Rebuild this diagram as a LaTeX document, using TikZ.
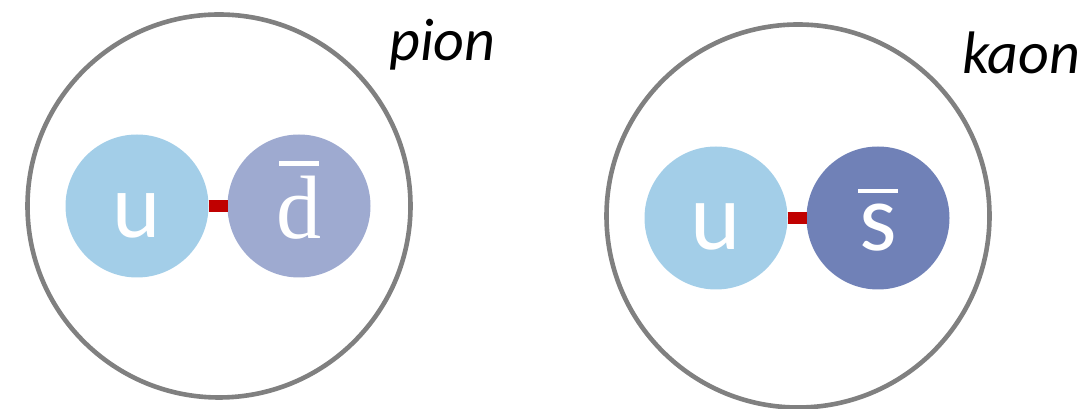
\documentclass[tikz,border=0pt]{standalone}
\usepackage{fontspec}
\setmainfont{Liberation Serif}
\newfontfamily\calibri{Carlito}
\usepackage{tikz}
\usetikzlibrary{positioning}
\definecolor{upblue}{RGB}{163,206,232}
\definecolor{dbarblue}{RGB}{158,170,208}
\definecolor{sbarblue}{RGB}{112,129,183}
\definecolor{gluonred}{RGB}{192,0,0}
\definecolor{shellgray}{RGB}{128,128,128}
% antiquark: bar over the letter
\newcommand{\antiq}[1]{\vbox{\offinterlineskip\hbox to 40pt{\hss\vrule width 40pt height 4.5pt depth 0pt\hss}\kern 11pt\hbox to 40pt{\hss#1\hss}}}

\begin{document}
\begin{tikzpicture}[
x=1pt,y=1pt,
hadron/.style={circle,draw=shellgray,line width=4.6pt,minimum size=383pt,inner sep=0pt},
quark/.style={circle,minimum size=143pt,inner sep=0pt,outer sep=0pt},
gluon/.style={draw=gluonred,line width=12pt},
flavour/.style={text=white,anchor=base,inner sep=0pt},
tag/.style={anchor=base west,inner sep=0pt,font=\calibri\itshape\fontsize{60}{60}\selectfont}]
    \useasboundingbox (0,0) rectangle (1088,409);

    % pion
    \node[hadron] (pion) at (219,203) {};
    \node[quark,fill=upblue] (u1) at (137,203) {};
    \node[quark,fill=dbarblue] (dbar) [right=19pt of u1] {};
    \draw[gluon] (u1) -- (dbar);
    \node[flavour,font=\calibri\fontsize{92}{92}\selectfont] (u1l) at ([yshift=-32pt]u1.center) {u};
    \node[flavour,font=\fontsize{90}{90}\selectfont] (dbarl) at ([yshift=-33pt]dbar.center) {\antiq{d}};
    \node[tag] (pionlabel) at (389,348) {pion};

    % kaon
    \node[hadron] (kaon) at (798,193) {};
    \node[quark,fill=upblue] (u2) at (716,191) {};
    \node[quark,fill=sbarblue] (sbar) [right=19pt of u2] {};
    \draw[gluon] (u2) -- (sbar);
    \node[flavour,font=\calibri\fontsize{96}{96}\selectfont] (u2l) at ([yshift=-32pt]u2.center) {u};
    \node[flavour,font=\calibri\fontsize{96}{96}\selectfont] (sbarl) at ([yshift=-33pt]sbar.center) {\antiq{s}};
    \node[tag] (kaonlabel) at (962,335) {kaon};

\end{tikzpicture}
\end{document}
